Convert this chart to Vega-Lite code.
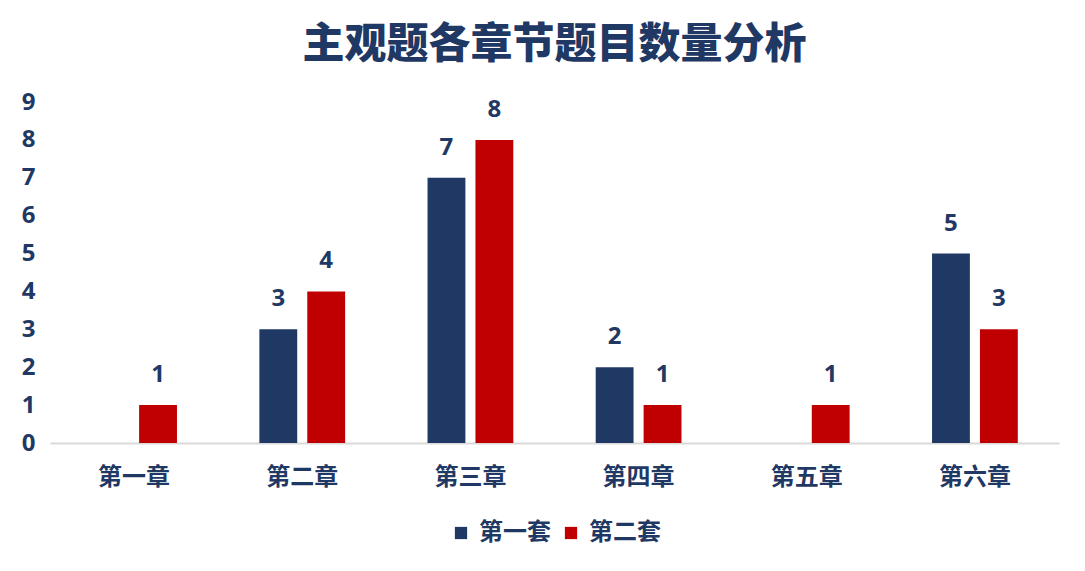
{
  "$schema": "https://vega.github.io/schema/vega-lite/v6.json",
  "autosize": "none",
  "width": 1009,
  "height": 341,
  "padding": {"left": 50, "top": 102, "right": 26, "bottom": 128},
  "background": "#ffffff",
  "title": {
    "text": "主观题各章节题目数量分析",
    "font": "Noto Sans CJK SC",
    "fontSize": 42,
    "fontWeight": 900,
    "color": "#1F3864",
    "anchor": "middle",
    "offset": 23
  },
  "config": {
    "view": {"stroke": null},
    "font": "Open Sans, Noto Sans CJK SC",
    "legend": {"layout": {"bottom": {"anchor": "middle"}}}
  },
  "data": {
    "values": [
      {"chapter": "第一章", "set": "第一套", "value": 0},
      {"chapter": "第一章", "set": "第二套", "value": 1},
      {"chapter": "第二章", "set": "第一套", "value": 3},
      {"chapter": "第二章", "set": "第二套", "value": 4},
      {"chapter": "第三章", "set": "第一套", "value": 7},
      {"chapter": "第三章", "set": "第二套", "value": 8},
      {"chapter": "第四章", "set": "第一套", "value": 2},
      {"chapter": "第四章", "set": "第二套", "value": 1},
      {"chapter": "第五章", "set": "第一套", "value": 0},
      {"chapter": "第五章", "set": "第二套", "value": 1},
      {"chapter": "第六章", "set": "第一套", "value": 5},
      {"chapter": "第六章", "set": "第二套", "value": 3}
    ]
  },
  "encoding": {
    "x": {
      "field": "chapter",
      "type": "nominal",
      "sort": ["第一章", "第二章", "第三章", "第四章", "第五章", "第六章"],
      "scale": {"paddingInner": 0.49, "paddingOuter": 0.245},
      "axis": {
        "title": null,
        "labelAngle": 0,
        "labelFont": "Noto Sans CJK SC",
        "labelFontSize": 24,
        "labelFontWeight": "bold",
        "labelColor": "#1F3864",
        "labelPadding": 22,
        "ticks": false,
        "domainColor": "#D9D9D9",
        "domainWidth": 2,
        "grid": false
      }
    },
    "xOffset": {
      "field": "set",
      "type": "nominal",
      "sort": ["第一套", "第二套"],
      "scale": {"paddingInner": 0.21}
    },
    "y": {
      "field": "value",
      "type": "quantitative",
      "scale": {"domain": [0, 9]},
      "axis": {
        "title": null,
        "values": [0, 1, 2, 3, 4, 5, 6, 7, 8, 9],
        "labelFont": "Open Sans",
        "labelFontSize": 24,
        "labelFontWeight": "bold",
        "labelColor": "#1F3864",
        "labelPadding": 15,
        "ticks": false,
        "domain": false,
        "grid": false
      }
    }
  },
  "layer": [
    {
      "mark": {"type": "bar"},
      "encoding": {
        "color": {
          "field": "set",
          "type": "nominal",
          "scale": {"domain": ["第一套", "第二套"], "range": ["#203864", "#C00000"]},
          "legend": {
            "title": null,
            "orient": "bottom",
            "direction": "horizontal",
            "symbolType": "square",
            "symbolSize": 150,
            "symbolStrokeWidth": 0,
            "labelFont": "Noto Sans CJK SC",
            "labelFontSize": 24,
            "labelFontWeight": "bold",
            "labelColor": "#1F3864",
            "labelOffset": 6,
            "columnPadding": 8,
            "offset": 32
          }
        }
      }
    },
    {
      "transform": [{"filter": "datum.value > 0"}],
      "mark": {
        "type": "text",
        "baseline": "bottom",
        "dy": -18,
        "font": "Open Sans",
        "fontSize": 24,
        "fontWeight": "bold",
        "color": "#1F3864"
      },
      "encoding": {
        "text": {"field": "value", "type": "quantitative"}
      }
    }
  ]
}
